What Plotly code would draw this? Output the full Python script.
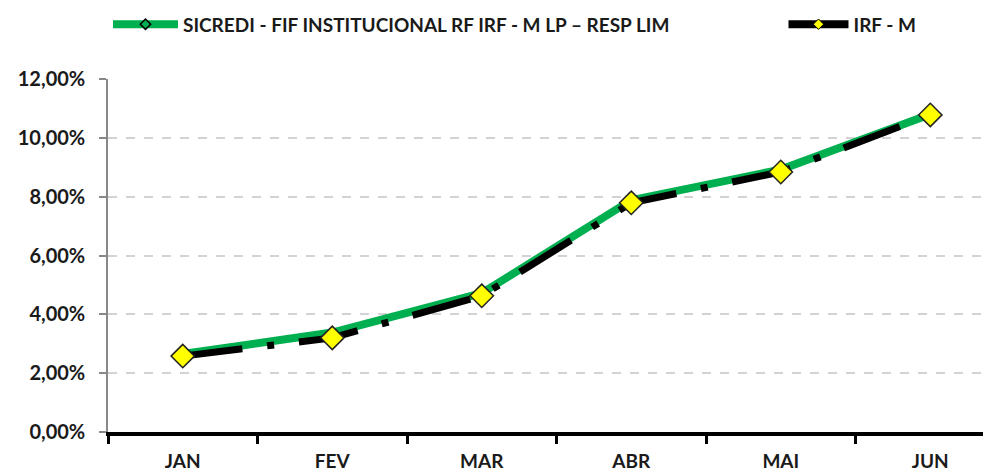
import plotly.graph_objects as go

months = ["JAN", "FEV", "MAR", "ABR", "MAI", "JUN"]
sicredi = [0.0265, 0.0338, 0.0472, 0.0788, 0.0892, 0.1080]
irfm = [0.0258, 0.0320, 0.0463, 0.0779, 0.0884, 0.1078]
y_ticks = [0, 0.02, 0.04, 0.06, 0.08, 0.10, 0.12]
names = ["SICREDI - FIF INSTITUCIONAL RF IRF - M LP – RESP LIM", "IRF - M"]

FONT = "Lato"
GREEN = "#00B050"

fig = go.Figure()
fig.add_trace(go.Scatter(
    x=months, y=sicredi, name=names[0], showlegend=False,
    mode="lines+markers",
    line=dict(color=GREEN, width=8),
    marker=dict(symbol="diamond", size=7, color=GREEN, line=dict(color="black", width=1.5)),
))
fig.add_trace(go.Scatter(
    x=months, y=irfm, name=names[1], showlegend=False,
    mode="lines+markers",
    line=dict(color="black", width=7, dash="60px,25px,7px,25px"),
    marker=dict(symbol="diamond", size=18, color="#FFFF00", line=dict(color="#222222", width=1.5)),
))
# legend-only entries (no data drawn)
fig.add_trace(go.Scatter(
    x=[None], y=[None], name=names[0], legend="legend",
    mode="lines+markers",
    line=dict(color=GREEN, width=8),
    marker=dict(symbol="diamond", size=8, color=GREEN, line=dict(color="black", width=1.5)),
))
fig.add_trace(go.Scatter(
    x=[None], y=[None], name=names[1], legend="legend2",
    mode="lines+markers",
    line=dict(color="black", width=8),
    marker=dict(symbol="diamond", size=8, color="#FFFF00", line=dict(color="black", width=1)),
))

legend_font = dict(family=FONT, size=19, color="#1a1a1a", weight="bold")
fig.update_layout(
    width=983, height=467,
    margin=dict(l=100, r=0, t=71, b=43, autoexpand=False),
    paper_bgcolor="white", plot_bgcolor="white",
    separators=",.",
    font=dict(family=FONT, color="#1a1a1a"),
    showlegend=True,
    legend=dict(
        orientation="h", x=0.0, xanchor="left", y=0.965, yanchor="middle",
        yref="container", itemwidth=65, itemsizing="trace",
        font=legend_font, bgcolor="rgba(0,0,0,0)",
    ),
    legend2=dict(
        orientation="h", x=0.765, xanchor="left", y=0.965, yanchor="middle",
        yref="container", itemwidth=60, itemsizing="trace",
        font=legend_font, bgcolor="rgba(0,0,0,0)",
    ),
    xaxis=dict(
        type="category", range=[-0.5, 5.406],
        showline=True, linecolor="black", linewidth=4,
        ticks="outside", tickson="boundaries", ticklen=8, tickwidth=3, tickcolor="black",
        showgrid=False, automargin=False,
        tickfont=dict(family=FONT, size=19, color="#1a1a1a", weight="bold"),
        ticklabelstandoff=9,
    ),
    yaxis=dict(
        range=[0, 0.12], tickvals=y_ticks, tickformat=".2%",
        showline=True, linecolor="#888888", linewidth=1.5,
        ticks="outside", ticklen=7, tickcolor="#888888", tickwidth=1.5,
        showgrid=True, gridcolor="#d3d3d3", griddash="dash", gridwidth=1.5,
        zeroline=False, automargin=False,
        tickfont=dict(family=FONT, size=20, color="#1a1a1a", weight="bold"),
        ticklabelstandoff=10,
    ),
)

fig.write_html("out.html")
